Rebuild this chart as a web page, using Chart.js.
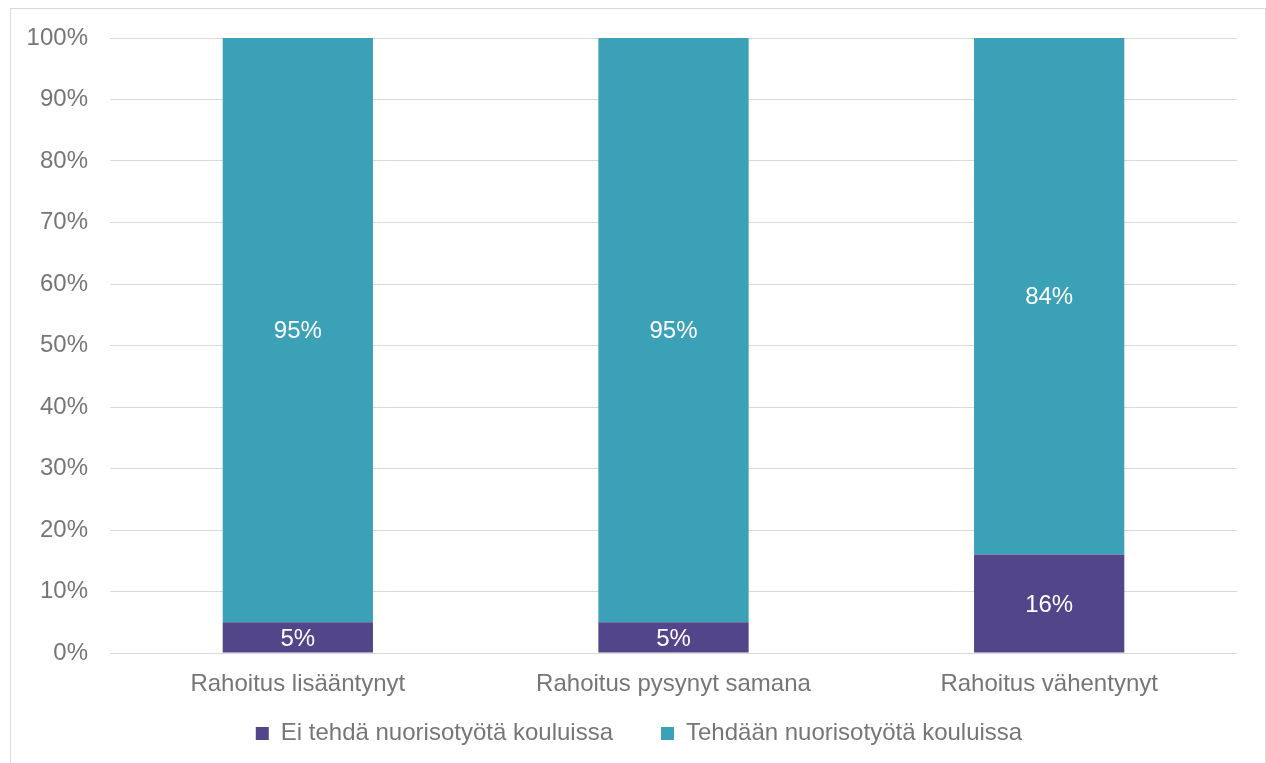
<!DOCTYPE html>
<html>
<head>
<meta charset="utf-8">
<script src="https://cdn.jsdelivr.net/npm/chart.js@4/dist/chart.umd.min.js"></script>
<style>
  html, body { margin: 0; padding: 0; background: #fff; overflow: hidden; }
  #frame { position: absolute; left: 10px; top: 8px; width: 1254px; height: 800px; border: 1px solid #d9d9d9; }
  #chart { position: absolute; left: 0; top: 0; }
</style>
</head>
<body>
<div id="frame"></div>
<canvas id="chart" width="1266" height="763"></canvas>
<script>
const categories = ['Rahoitus lisääntynyt', 'Rahoitus pysynyt samana', 'Rahoitus vähentynyt'];
const seriesNames = ['Ei tehdä nuorisotyötä kouluissa', 'Tehdään nuorisotyötä kouluissa'];
const eiTehda = [5, 5, 16];
const tehdaan = [95, 95, 84];
const yTicks = [0, 10, 20, 30, 40, 50, 60, 70, 80, 90, 100];

const textGray = '#767676';
const gridGray = '#d9d9d9';
const fontFamily = '"Liberation Sans", Arial, sans-serif';

// draws the white percentage inside each bar segment
const barLabels = {
    id: 'barLabels',
    afterDatasetsDraw(chart) {
        const ctx = chart.ctx;
        ctx.save();
        ctx.fillStyle = '#ffffff';
        ctx.font = '24px ' + fontFamily;
        ctx.textAlign = 'center';
        ctx.textBaseline = 'middle';
        chart.data.datasets.forEach((ds, i) => {
            const meta = chart.getDatasetMeta(i);
            meta.data.forEach((bar, j) => {
                const p = bar.getProps(['x', 'y', 'base'], true);
                ctx.fillText(ds.data[j] + '%', p.x, (p.y + p.base) / 2 + 1.5);
            });
        });
        ctx.restore();
    }
};

// legend box is kept short for the layout, then moved and given room to draw
const legendNudge = {
    id: 'legendNudge',
    afterLayout(chart) {
        const lg = chart.legend;
        lg.left += 10.5;
        lg.right += 10.5;
        lg.top = 673.5;
        lg.bottom = 763;
        lg.height = lg.bottom - lg.top;
    }
};

new Chart(document.getElementById('chart').getContext('2d'), {
    type: 'bar',
    data: {
        labels: categories,
        datasets: [
            { label: seriesNames[0], data: eiTehda, backgroundColor: '#534589' },
            { label: seriesNames[1], data: tehdaan, backgroundColor: '#3ba1b7' }
        ]
    },
    options: {
        responsive: false,
        animation: false,
        barPercentage: 0.4,
        categoryPercentage: 1,
        layout: { padding: { left: 20, right: 29, top: 38, bottom: 30 } },
        plugins: {
            legend: {
                position: 'bottom',
                maxHeight: 30,
                labels: {
                    color: textGray,
                    font: { family: fontFamily, size: 24 },
                    boxWidth: 13,
                    boxHeight: 13,
                    padding: 48
                }
            },
            tooltip: { enabled: false }
        },
        scales: {
            x: {
                stacked: true,
                grid: { display: false },
                border: { display: false },
                ticks: {
                    color: textGray,
                    font: { family: fontFamily, size: 24 },
                    padding: 9,
                    maxRotation: 0
                },
                afterFit(scale) { scale.height = 50; }
            },
            y: {
                stacked: true,
                min: 0,
                max: 100,
                grid: { color: gridGray, drawTicks: false },
                border: { display: false },
                afterBuildTicks(scale) { scale.ticks = yTicks.map(v => ({ value: v })); },
                ticks: {
                    color: textGray,
                    font: { family: fontFamily, size: 24 },
                    padding: 22,
                    callback: v => v + '%'
                },
                afterFit(scale) { scale.width = 90; }
            }
        }
    },
    plugins: [barLabels, legendNudge]
});
</script>
</body>
</html>
